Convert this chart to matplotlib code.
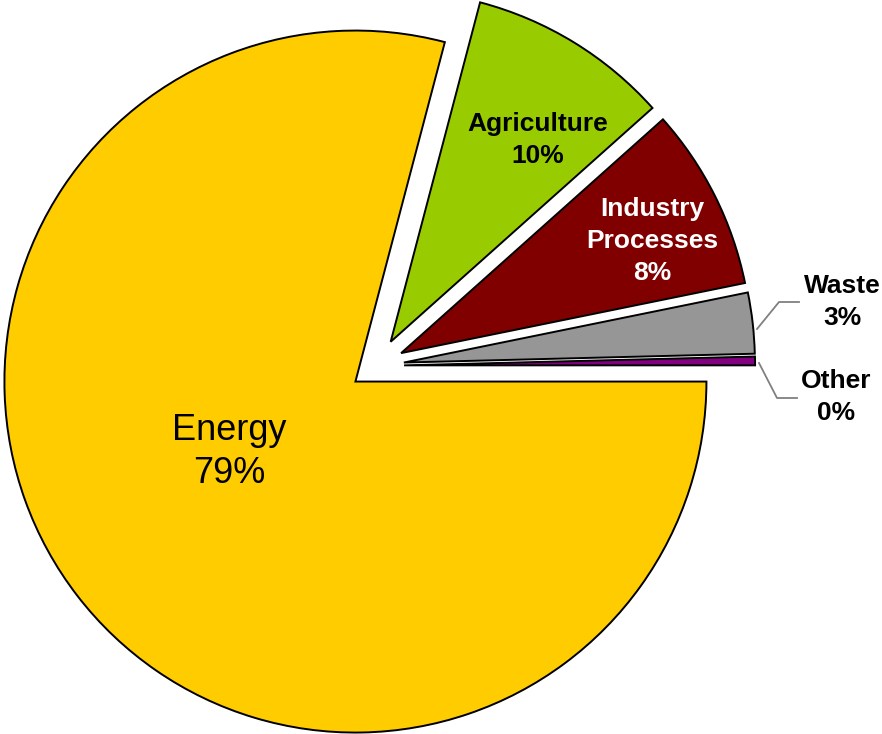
import matplotlib.pyplot as plt

# === DATOS ===
sectors = ['Energy', 'Agriculture', 'Industry Processes', 'Waste', 'Other']
shares = [79.1, 9.3, 8.4, 2.8, 0.4]
pct_labels = ['79%', '10%', '8%', '3%', '0%']
colors = ['#FFCC00', '#99CC00', '#800000', '#969696', '#800080']

plt.rcParams['font.family'] = ['Liberation Sans', 'DejaVu Sans']

# pie geometry in pixels (radius and center)
R_PX = 351.0
CX, CY = 376.0, 365.7
W, H = 882, 734


def px(x, y):
    # pixel (from top-left) -> data coords
    return ((x - CX) / R_PX, (CY - y) / R_PX)


fig = plt.figure(figsize=(W / 100, H / 100), dpi=100)
ax = fig.add_axes([0, 0, 1, 1])

wedges, _ = ax.pie(
    shares,
    colors=colors,
    startangle=0,
    counterclock=False,
    explode=[0.074, 0.08, 0.08, 0.08, 0.08],
    wedgeprops=dict(edgecolor='black', linewidth=1.4),
)

ax.set_xlim(-CX / R_PX, (W - CX) / R_PX)
ax.set_ylim(-(H - CY) / R_PX, CY / R_PX)
ax.set_aspect('auto')
ax.axis('off')

# === ETIQUETAS ===
ax.text(*px(229, 452), f"{sectors[0]}\n{pct_labels[0]}", ha='center', va='center',
        fontsize=26, color='black', linespacing=1.32)
ax.text(*px(538, 140), f"{sectors[1]}\n{pct_labels[1]}", ha='center', va='center',
        fontsize=19, fontweight='bold', color='black', linespacing=1.42)
ax.text(*px(652, 241), "Industry\nProcesses\n" + pct_labels[2], ha='center', va='center',
        fontsize=19, fontweight='bold', color='white', linespacing=1.42)
ax.text(*px(842, 302), f"{sectors[3]}\n{pct_labels[3]}", ha='center', va='center',
        fontsize=19, fontweight='bold', color='black', linespacing=1.42)
ax.text(*px(836, 397), f"{sectors[4]}\n{pct_labels[4]}", ha='center', va='center',
        fontsize=19, fontweight='bold', color='black', linespacing=1.42)

# lineas guia
for pts in [[(757, 329), (779, 302), (799, 302)],
            [(759, 363), (777, 398), (797, 398)]]:
    xs, ys = zip(*[px(x, y) for x, y in pts])
    ax.plot(xs, ys, color='#808080', linewidth=1.3)

fig.savefig('out.png', dpi=100)
